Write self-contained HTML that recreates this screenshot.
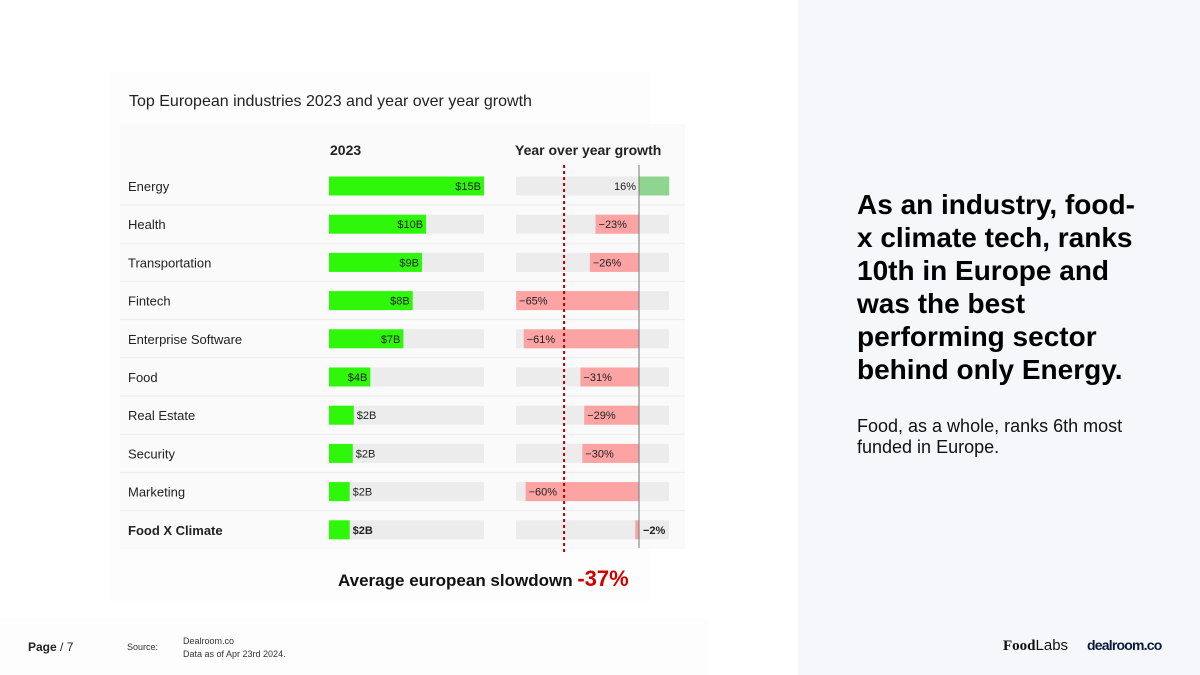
<!DOCTYPE html>
<html><head><meta charset="utf-8"><style>
body{margin:0;width:1200px;height:675px;overflow:hidden;background:#fff;font-family:"Liberation Sans",sans-serif;position:relative}
.abs{position:absolute}
</style></head><body>
<div class="abs" style="left:110px;top:72px;width:540px;height:530px;background:#fdfdfd"></div>
<div class="abs" style="left:129px;top:93px;font-size:16px;color:#222">Top European industries 2023 and year over year growth</div>
<div class="abs" style="left:120px;top:124px;width:565px;height:425px;background:#fafafa"></div>
<div class="abs" style="left:330px;top:142px;font-size:14px;font-weight:bold;color:#222">2023</div>
<div class="abs" style="left:515px;top:142px;font-size:14px;font-weight:bold;color:#222">Year over year growth</div>
<svg class="abs" style="left:0;top:0" width="800" height="675" id="chart"></svg>
<div class="abs" style="left:338px;top:566px;font-size:17px;font-weight:bold;color:#111">Average european slowdown <span style="color:#d00000;font-size:22px;">-37%</span></div>
<div class="abs" style="left:0;top:618px;width:710px;height:57px;background:#fdfdfd"></div>
<div class="abs" style="left:28px;top:640px;font-size:12px;color:#222"><b>Page</b> / 7</div>
<div class="abs" style="left:127px;top:642px;font-size:9px;color:#333">Source:</div>
<div class="abs" style="left:183px;top:635px;font-size:9px;color:#333;line-height:13px">Dealroom.co<br>Data as of Apr 23rd 2024.</div>
<div class="abs" style="left:798px;top:0;width:402px;height:675px;background:#f6f7fb"></div>
<div class="abs" style="left:857px;top:188px;width:285px;font-size:28px;font-weight:bold;line-height:33px;color:#000">As an industry, food-x climate tech, ranks 10th in Europe and was the best performing sector behind only Energy.</div>
<div class="abs" style="left:857px;top:416px;width:300px;font-size:18px;line-height:21px;color:#111">Food, as a whole, ranks 6th most funded in Europe.</div>
<div class="abs" style="left:1003px;top:637px;font-size:15px;font-family:'Liberation Serif',serif;font-weight:bold;color:#111">Food<span style="font-family:'Liberation Sans';font-weight:normal">Labs</span></div>
<div class="abs" style="left:1087px;top:637px;font-size:14px;font-weight:bold;color:#0b1a3c;letter-spacing:-0.8px">dealroom.co</div>
<script>
const categories=["Energy","Health","Transportation","Fintech","Enterprise Software","Food","Real Estate","Security","Marketing","Food X Climate"];
const funding=[15,9.4,9.0,8.1,7.2,4.0,2.4,2.3,2.0,2.0];
const fundingLabels=["$15B","$10B","$9B","$8B","$7B","$4B","$2B","$2B","$2B","$2B"];
const growth=[16,-23,-26,-65,-61,-31,-29,-30,-60,-2];
const average=-37;
const svg=document.getElementById('chart');
const NS='http://www.w3.org/2000/svg';
function mk(t,a){const e=document.createElementNS(NS,t);for(const k in a)e.setAttribute(k,a[k]);svg.appendChild(e);return e;}
const x1=v=>329+v/15*155;
const x2=v=>639+v*1.89;
const rowY=i=>186+i*38.2;
categories.forEach((c,i)=>{
  const y=rowY(i), bold=i===categories.length-1;
  if(i<categories.length-1){const l=mk('line',{x1:120,x2:685,y1:y+19,y2:y+19,stroke:'#ececec','stroke-width':1});
  }
  const t=mk('text',{x:128,y:y+5,'font-size':13,fill:'#222','font-weight':bold?'bold':'normal'});t.textContent=c;
  
  const tr=mk('rect',{x:329,y:y-9.5,width:155,height:19,fill:'#ececec'});
  
  const b=mk('rect',{x:329,y:y-9.5,width:x1(funding[i])-329,height:19,fill:'#2ef70a'});
  
  const big=funding[i]>3;
  const ft=mk('text',{x:big?x1(funding[i])-3:x1(funding[i])+3,y:y+4,'font-size':11,fill:'#222','text-anchor':big?'end':'start','font-weight':bold?'bold':'normal'});ft.textContent=fundingLabels[i];
  
  const gt=mk('rect',{x:516,y:y-9.5,width:153,height:19,fill:'#ececec'});
  
  const g=growth[i], gx=Math.min(x2(0),x2(g));
  const gb=mk('rect',{x:gx,y:y-9.5,width:Math.abs(x2(g)-x2(0)),height:19,fill:g>=0?'#8fd48f':'#fca3a3'});
  
  const lab=(g<0?'\u2212':'')+Math.abs(g)+'%';
  let tx,anchor;
  if(g>=0){tx=x2(0)-3;anchor='end';}else if(g>-5){tx=x2(0)+4;anchor='start';}else{tx=x2(g)+3;anchor='start';}
  const gtx=mk('text',{x:tx,y:y+4,'font-size':11,fill:'#222','text-anchor':anchor,'font-weight':bold?'bold':'normal'});gtx.textContent=lab;
  
});
const z=mk('line',{x1:x2(0),x2:x2(0),y1:165,y2:548,stroke:'#777','stroke-width':1});

const av=mk('line',{x1:x2(average)-5,x2:x2(average)-5,y1:165,y2:553,stroke:'#c00000','stroke-width':2,'stroke-dasharray':'3,3'});

</script>
</body></html>
